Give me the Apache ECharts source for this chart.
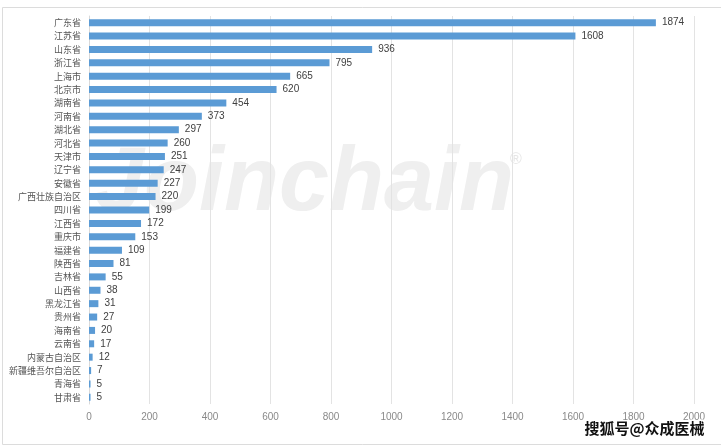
<!DOCTYPE html>
<html><head><meta charset="utf-8">
<script src="https://cdn.jsdelivr.net/npm/echarts@6/dist/echarts.min.js"></script>
<style>html,body{margin:0;padding:0;background:#fff}#c{width:721px;height:446px}</style>
</head><body><div id="c"></div>
<script>
const categories = ["广东省","江苏省","山东省","浙江省","上海市","北京市","湖南省","河南省","湖北省","河北省","天津市","辽宁省","安徽省","广西壮族自治区","四川省","江西省","重庆市","福建省","陕西省","吉林省","山西省","黑龙江省","贵州省","海南省","云南省","内蒙古自治区","新疆维吾尔自治区","青海省","甘肃省"];
const values = [1874,1608,936,795,665,620,454,373,297,260,251,247,227,220,199,172,153,109,81,55,38,31,27,20,17,12,7,5,5];
const xTicks = {min:0, max:2000, interval:200};

const chart = echarts.init(document.getElementById('c'), null, {renderer:'canvas'});
chart.setOption({
  animation:false,
  backgroundColor:'#fff',
  grid:{left:89, right:27, top:16, bottom:42},
  xAxis:{type:'value', min:xTicks.min, max:xTicks.max, interval:xTicks.interval,
    axisLine:{show:false}, axisTick:{show:false},
    splitLine:{lineStyle:{color:'#e3e3e3', width:1}},
    axisLabel:{color:'#8a8a8a', fontSize:10, margin:8, fontFamily:'Liberation Sans', formatter:v=>String(v)}},
  yAxis:{type:'category', data:categories, inverse:true,
    axisLine:{show:true, lineStyle:{color:'#d9d9d9'}}, axisTick:{show:false},
    axisLabel:{color:'#555', fontSize:9, margin:8, fontFamily:'Noto Sans CJK SC'}},
  graphic:[
    {type:'rect', left:0, top:5, z:-10, shape:{width:720, height:437}, style:{fill:'none', stroke:'#dcdcdc', lineWidth:1}},
    {type:'text', left:94, top:140, z:-5, style:{text:'Joinchain', font:'italic bold 90px "Liberation Sans"', fill:'#efefef'}},
    {type:'text', left:510, top:152, z:-5, style:{text:'®', font:'16px "Liberation Sans"', fill:'#e6e6e6'}},
    {type:'text', right:15, top:419, z:10, style:{text:'搜狐号@众成医械', font:'bold 15px "Noto Sans CJK SC"', fill:'#111', stroke:'#fff', lineWidth:3}}
  ],
  series:[{type:'bar', data:values, barWidth:7, z:2,
    itemStyle:{color:'#5b9bd5'},
    label:{show:true, position:'right', color:'#404040', fontSize:10, distance:6, fontFamily:'Liberation Sans'}}]
});
</script></body></html>
